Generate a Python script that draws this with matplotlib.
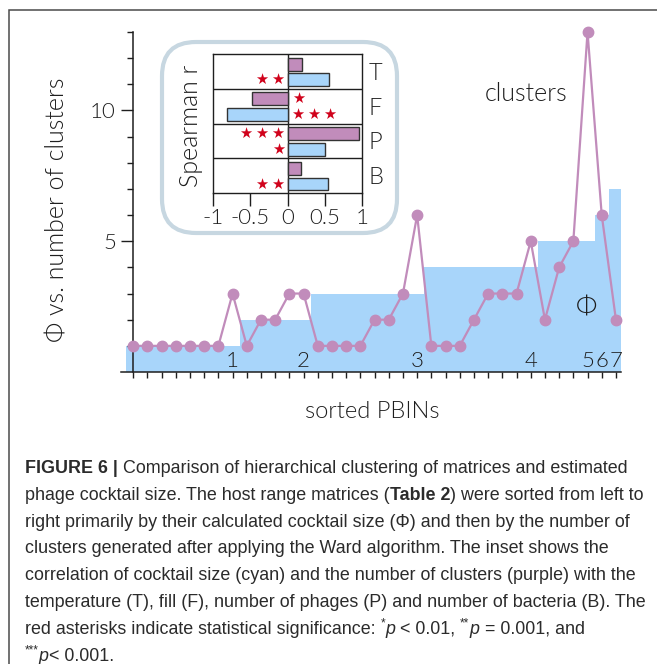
import numpy as np
import matplotlib.pyplot as plt
from matplotlib.patches import FancyBboxPatch

W, H = 657, 664

plt.rcParams['font.family'] = ['Lato', 'DejaVu Sans']
plt.rcParams['font.weight'] = 300
plt.rcParams['axes.labelweight'] = 300

BLUE = '#a8d5fa'
PURPLE = '#c18cbb'
INK = '#1e1e1e'
CAP_INK = '#2b2b2b'
STAR_RED = '#d0021b'

# cocktail size (phi) and number of Ward clusters for each sorted PBIN
phi = [1, 1, 1, 1, 1, 1, 1, 1, 2, 2, 2, 2, 2, 3, 3, 3, 3, 3, 3, 3, 3,
       4, 4, 4, 4, 4, 4, 4, 4, 5, 5, 5, 5, 6, 7]
clusters = [1, 1, 1, 1, 1, 1, 1, 3, 1, 2, 2, 3, 3, 1, 1, 1, 1, 2, 2, 3, 6,
            1, 1, 1, 2, 3, 3, 3, 5, 2, 4, 5, 13, 6, 2]

# inset: Spearman r of clusters (purple) and cocktail size (cyan)
params = ['T', 'F', 'P', 'B']
r_clusters = [0.20, -0.47, 0.955, 0.185]
r_size = [0.56, -0.81, 0.51, 0.55]
sig_clusters = ['', '*', '***', '']
sig_size = ['**', '***', '*', '**']

B = {'weight': 'bold'}
I = {'style': 'italic'}
SUP = {'fontsize': 8.5, 'rise': 5}
caption = [
    [("FIGURE 6 |", B), (" Comparison of hierarchical clustering of matrices and estimated", {})],
    [("phage cocktail size. The host range matrices (", {}), ("Table 2", B),
     (") were sorted from left to", {})],
    [("right primarily by their calculated cocktail size (\u03a6) and then by the number of", {})],
    [("clusters generated after applying the Ward algorithm. The inset shows the", {})],
    [("correlation of cocktail size (cyan) and the number of clusters (purple) with the", {})],
    [("temperature (T), fill (F), number of phages (P) and number of bacteria (B). The", {})],
    [("red asterisks indicate statistical significance: ", {}), ("*", SUP), ("p", I),
     (" < 0.01, ", {}), ("**", SUP), ("p", I), (" = 0.001, and", {})],
    [("***", SUP), ("p", I), ("< 0.001.", {})],
]


def rect(x0, y0, x1, y1):
    # pixel box (origin top-left) -> figure fraction rect
    return [x0 / W, 1 - y1 / H, (x1 - x0) / W, (y1 - y0) / H]


def put_runs(axis, x, y, parts):
    # write one caption line as consecutive styled runs on a common baseline
    prev = None
    for txt, kw in parts:
        style = dict(fontsize=12.9, family='Liberation Sans', weight='normal',
                     color=CAP_INK)
        style.update(kw)
        rise = style.pop('rise', 0)
        if prev is None:
            xy, coords = (x, y), 'data'
        else:
            xy, coords = (1, y), (prev, 'data')
        prev = axis.annotate(txt, xy=xy, xycoords=coords, xytext=(0, rise),
                             textcoords='offset points', va='baseline',
                             ha='left', **style)


fig = plt.figure(figsize=(W / 100, H / 100), dpi=100)

# page layer: frame, inset box and caption
bg = fig.add_axes([0, 0, 1, 1])
bg.set_xlim(0, W)
bg.set_ylim(H, 0)
bg.axis('off')
bg.plot([8.5, 8.5, W + 5], [H + 5, 9.5, 9.5], color='#4a4a4a', lw=1.1,
        solid_joinstyle='miter')
bg.add_patch(FancyBboxPatch((162, 42), 235, 191,
                            boxstyle="round,pad=0,rounding_size=34",
                            fc='white', ec='#c7d7e1', lw=3.0))
for k, line in enumerate(caption):
    put_runs(bg, 25, 473 + 26.8 * k, line)

# main chart
ax = fig.add_axes(rect(121.4, 32, 620.9, 372))
ax.set_facecolor('none')
idx = np.arange(len(phi))
ax.bar(idx, phi, width=1.0, color=BLUE, linewidth=0, zorder=1)
ax.plot(idx, clusters, '-o', color=PURPLE, lw=1.6, ms=7.5, clip_on=False,
        zorder=3)

ax.set_xlim(-0.83, 34.35)
ax.set_ylim(0, 13)
for s in ['top', 'right']:
    ax.spines[s].set_visible(False)
ax.spines['left'].set_position(('data', 0))
for s in ['left', 'bottom']:
    ax.spines[s].set_color(INK)
    ax.spines[s].set_linewidth(1.1)

ax.set_xticks(idx)
ax.set_xticklabels([])
ax.set_yticks([5, 10])
ax.set_yticks([v for v in range(1, 14) if v % 5], minor=True)
ax.tick_params(axis='x', direction='out', length=4.5, width=1.0, color=INK)
ax.tick_params(axis='y', which='major', direction='out', length=8.5, width=1.0,
               color=INK, pad=4, labelsize=16, labelcolor=INK)
ax.tick_params(axis='y', which='minor', direction='out', length=4.5, width=1.0,
               color=INK)

ax.set_ylabel('\u03a6 vs. number of clusters', fontsize=18, color=INK)
ax.yaxis.set_label_coords(-0.103, 0.476)
ax.set_xlabel('sorted PBINs', fontsize=17, color=INK)
ax.xaxis.set_label_coords(0.502, -0.085)

# phi value at the last PBIN of each cocktail size
phi_arr = np.array(phi)
for v in np.unique(phi_arr):
    last = np.where(phi_arr == v)[0][-1]
    ax.text(last, 0.2, str(v), ha='center', va='baseline', fontsize=16,
            color=INK)

ax.text(27.7, 10.63, 'clusters', ha='center', va='center', fontsize=18,
        color=INK)
ax.text(31.9, 2.45, '\u03a6', ha='center', va='center', fontsize=19,
        color=INK)

# inset
ins = fig.add_axes(rect(213, 54, 362, 193))
rows = np.arange(len(params))
ins.barh(rows + 0.29, r_clusters, height=0.37, color=PURPLE, edgecolor='#333333',
         lw=1.0, zorder=2)
ins.barh(rows + 0.74, r_size, height=0.37, color=BLUE, edgecolor='#333333',
         lw=1.0, zorder=2)
ins.set_xlim(-1, 1)
ins.set_ylim(len(params), 0)
for y in rows[1:]:
    ins.axhline(y, color=INK, lw=1.0, zorder=1)
ins.axvline(0, color=INK, lw=1.0, zorder=1)
for s in ins.spines.values():
    s.set_color(INK)
    s.set_linewidth(1.0)

ticks = [-1, -0.5, 0, 0.5, 1]
ins.set_xticks(ticks)
ins.set_xticklabels([f'{t:g}' for t in ticks])
ins.tick_params(axis='x', direction='out', length=9, width=1.0, color=INK,
                pad=1.5, labelsize=16, labelcolor=INK)
ins.yaxis.tick_right()
ins.set_yticks(rows + 0.5)
ins.set_yticklabels(params)
ins.tick_params(axis='y', length=0, pad=5, labelsize=17, labelcolor=INK)
ins.yaxis.set_label_position('left')
ins.set_ylabel('Spearman r', fontsize=18, color=INK)
ins.yaxis.set_label_coords(-0.067, 0.48)

# significance stars, placed on the side opposite the bar
for rvals, sigs, off in [(r_clusters, sig_clusters, 0.29),
                         (r_size, sig_size, 0.74)]:
    for i, (r, sg) in enumerate(zip(rvals, sigs)):
        if not sg:
            continue
        stars = '\u2009'.join('\u2605' * len(sg))
        x, ha = (-0.035, 'right') if r > 0 else (0.06, 'left')
        ins.text(x, i + off, stars, ha=ha, va='center', fontsize=10.5,
                 color=STAR_RED, family='DejaVu Sans', weight='normal')

fig.savefig('out.png', dpi=100)
